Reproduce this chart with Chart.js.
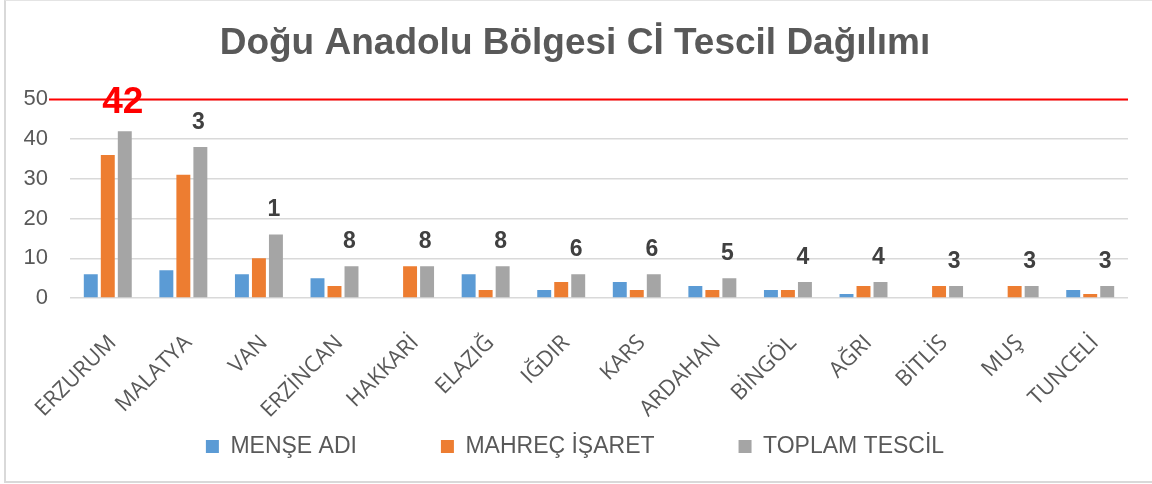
<!DOCTYPE html>
<html lang="tr">
<head>
  <meta charset="UTF-8">
  <title>Doğu Anadolu Bölgesi Cİ Tescil Dağılımı</title>
  <script src="https://cdn.jsdelivr.net/npm/chart.js"></script>
  <style>
    body { margin: 0; background: #fff; }
    .frame { position: absolute; left: 4px; top: 0; width: 1160px; height: 480px; border-left: 2px solid #d9d9d9; border-top: 1px solid #e4e4e4; border-bottom: 2px solid #d9d9d9; }
    .chart-container { position: absolute; left: 0; top: 0; width: 1152px; height: 484px; }
  </style>
</head>
<body>
  <div class="frame"></div>
  <div class="chart-container">
    <canvas id="ciChart"></canvas>
  </div>

  <script>
    // iller ve tescil sayıları
    const cities = ["ERZURUM", "MALATYA", "VAN", "ERZİNCAN", "HAKKARİ", "ELAZIĞ", "IĞDIR",
                    "KARS", "ARDAHAN", "BİNGÖL", "AĞRI", "BİTLİS", "MUŞ", "TUNCELİ"];
    const menseAdi = [6, 7, 6, 5, 0, 6, 2, 4, 3, 2, 1, 0, 0, 2];
    const mahrecIsaret = [36, 31, 10, 3, 8, 2, 4, 2, 2, 2, 3, 3, 3, 1];
    const toplamTescil = [42, 38, 16, 8, 8, 8, 6, 6, 5, 4, 4, 3, 3, 3];
    const topLabels = ["42", "3", "1", "8", "8", "8", "6", "6", "5", "4", "4", "3", "3", "3"];
    const yTicks = [0, 10, 20, 30, 40, 50];
    const refLine = 50;

    const grey = "#595959";

    // kırmızı çizgi ve sütun üstü etiketler
    const annot = {
      id: "annot",
      afterDatasetsDraw(chart) {
        const { ctx, chartArea, scales: { y } } = chart;
        const yy = y.getPixelForValue(refLine);
        ctx.save();
        ctx.strokeStyle = "#ff0000";
        ctx.lineWidth = 2;
        ctx.beginPath();
        ctx.moveTo(chartArea.left - 21, yy);
        ctx.lineTo(chartArea.right, yy);
        ctx.stroke();

        ctx.textAlign = "center";
        ctx.textBaseline = "alphabetic";
        chart.getDatasetMeta(2).data.forEach((bar, i) => {
          if (i === 0) {
            ctx.fillStyle = "#ff0000";
            ctx.font = "bold 37px 'Liberation Sans', Arial, sans-serif";
          } else {
            ctx.fillStyle = "#404040";
            ctx.font = "bold 23px 'Liberation Sans', Arial, sans-serif";
          }
          ctx.fillText(topLabels[i], bar.x - 2, bar.y - 18);
        });
        ctx.restore();
      }
    };

    // lejant: geniş yatay aralık, dikeyde yer kaplamasın
    const legendShift = {
      id: "legendShift",
      afterLayout(chart) {
        const lg = chart.legend;
        lg.top -= lg.options.labels.padding;
      }
    };

    const ctx = document.getElementById("ciChart").getContext("2d");
    new Chart(ctx, {
      type: "bar",
      data: {
        labels: cities,
        datasets: [
          { label: "MENŞE ADI", data: menseAdi, backgroundColor: "#5b9bd5" },
          { label: "MAHREÇ İŞARET", data: mahrecIsaret, backgroundColor: "#ed7d31" },
          { label: "TOPLAM TESCİL", data: toplamTescil, backgroundColor: "#a5a5a5" }
        ]
      },
      options: {
        responsive: true,
        maintainAspectRatio: false,
        animation: false,
        datasets: { bar: { categoryPercentage: 0.675, barPercentage: 0.82 } },
        layout: { padding: { left: 22, right: 24, top: 0, bottom: 19 } },
        plugins: {
          title: {
            display: true,
            text: "Doğu Anadolu Bölgesi Cİ Tescil Dağılımı",
            color: grey,
            font: { family: "'Liberation Sans', Arial, sans-serif", size: 37, weight: "bold" },
            padding: { top: 22, bottom: 33 }
          },
          legend: {
            position: "bottom",
            maxHeight: 30,
            labels: {
              color: grey,
              font: { family: "'Liberation Sans', Arial, sans-serif", size: 23 },
              boxWidth: 13,
              boxHeight: 13,
              padding: 84
            }
          },
          tooltip: { enabled: false }
        },
        scales: {
          x: {
            afterFit: s => { s.height = 137; },
            grid: { display: false },
            border: { display: false },
            ticks: {
              color: grey,
              maxRotation: 45,
              minRotation: 45,
              padding: 24,
              labelOffset: 5,
              font: { family: "'Open Sans', sans-serif", size: 22 }
            }
          },
          y: {
            min: 0,
            max: 50,
            afterBuildTicks: s => { s.ticks = yTicks.map(v => ({ value: v })); },
            afterFit: s => { s.width = 48; },
            grid: { color: "#d9d9d9", lineWidth: 1.5, drawTicks: false },
            border: { display: false },
            ticks: {
              color: grey,
              padding: 22,
              font: { family: "'Liberation Sans', Arial, sans-serif", size: 22 }
            }
          }
        }
      },
      plugins: [annot, legendShift]
    });
  </script>
</body>
</html>
